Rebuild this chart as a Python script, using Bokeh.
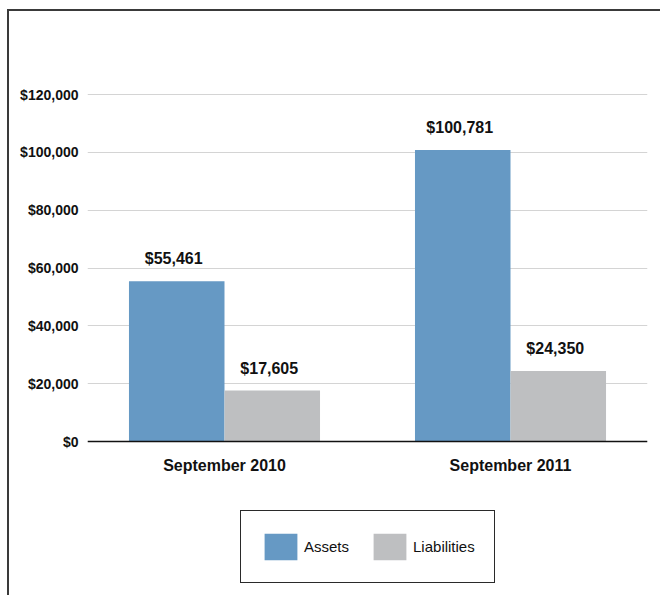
from bokeh.plotting import figure
from bokeh.models import (ColumnDataSource, FactorRange, FixedTicker, NumeralTickFormatter,
                          LabelSet, Legend, LegendItem, Span)
from bokeh.core.properties import value
from bokeh.transform import dodge
from bokeh.embed import file_html
from bokeh.resources import INLINE

categories = ["September 2010", "September 2011"]
assets = [55461, 100781]
liabilities = [17605, 24350]
y_ticks = [0, 20000, 40000, 60000, 80000, 100000, 120000]

BLUE = "#6699C4"
GRAY = "#BEBFC1"
FONT = "Liberation Sans"
INK = "#111111"

src = ColumnDataSource(dict(
    cat=categories,
    zero=[0] * len(categories),
    assets=assets,
    liabilities=liabilities,
    assets_lbl=["${:,}".format(v) for v in assets],
    liab_lbl=["${:,}".format(v) for v in liabilities],
))

# The plot frame extends below the zero line so that the category labels and
# the legend can sit inside it (legends outside the frame get clipped).
p = figure(x_range=FactorRange(*categories, range_padding=-0.021, range_padding_units="absolute"),
           y_range=(-51527, 122075), frame_width=560, frame_height=502,
           output_backend="svg", toolbar_location=None,
           min_border_left=78, min_border_right=13, min_border_top=77, min_border_bottom=5)
p.styles = {"border-top": "2px solid #3a3a3a", "border-left": "2px solid #3a3a3a",
            "margin-left": "7px", "margin-top": "9px"}
p.outline_line_color = None

r1 = p.vbar(x=dodge("cat", -0.167, range=p.x_range), top="assets", width=0.334,
            source=src, fill_color=BLUE, line_color=None)
r2 = p.vbar(x=dodge("cat", 0.167, range=p.x_range), top="liabilities", width=0.334,
            source=src, fill_color=GRAY, line_color=None)

# zero baseline
p.add_layout(Span(location=0, dimension="width", line_color=INK, line_width=1.5))

# value labels above bars
for xoff, col, txt in ((-0.167, "assets", "assets_lbl"), (0.167, "liabilities", "liab_lbl")):
    p.add_layout(LabelSet(x=dodge("cat", xoff, range=p.x_range), y=col, text=txt,
                          source=src, text_align="center", text_baseline="alphabetic",
                          y_offset=17, x_offset=-3, text_font=value(FONT),
                          text_font_style="bold", text_font_size="16px", text_color=INK))

# category labels under the zero line
p.add_layout(LabelSet(x="cat", y="zero", text="cat", source=src,
                      text_align="center", text_baseline="top", y_offset=-15,
                      text_font=value(FONT), text_font_style="bold",
                      text_font_size="16px", text_color=INK))

# y axis
p.yaxis.ticker = FixedTicker(ticks=y_ticks)
p.yaxis.formatter = NumeralTickFormatter(format="$0,0")
p.yaxis.axis_line_color = None
p.yaxis.major_tick_line_color = None
p.yaxis.minor_tick_line_color = None
p.yaxis.major_tick_in = 0
p.yaxis.major_tick_out = 0
p.yaxis.major_label_standoff = 9
p.yaxis.major_label_text_font = FONT
p.yaxis.major_label_text_font_style = "bold"
p.yaxis.major_label_text_font_size = "14px"
p.yaxis.major_label_text_color = INK

p.xaxis.visible = False

p.xgrid.grid_line_color = None
p.ygrid.ticker = FixedTicker(ticks=y_ticks)
p.ygrid.grid_line_color = "#D4D4D4"
p.ygrid.grid_line_width = 1.2

legend = Legend(items=[LegendItem(label="Assets", renderers=[r1]),
                       LegendItem(label="Liabilities", renderers=[r2])],
                orientation="horizontal", location=(153, 7),
                glyph_width=41, glyph_height=33, label_standoff=3, spacing=20,
                padding=19, margin=0, border_line_color="#2a2a2a", border_line_width=1.5,
                border_line_alpha=1.0,
                label_text_font=FONT, label_text_font_size="15px",
                label_text_color=INK, background_fill_alpha=1)
p.add_layout(legend)

open("out.html", "w").write(file_html(p, INLINE))
